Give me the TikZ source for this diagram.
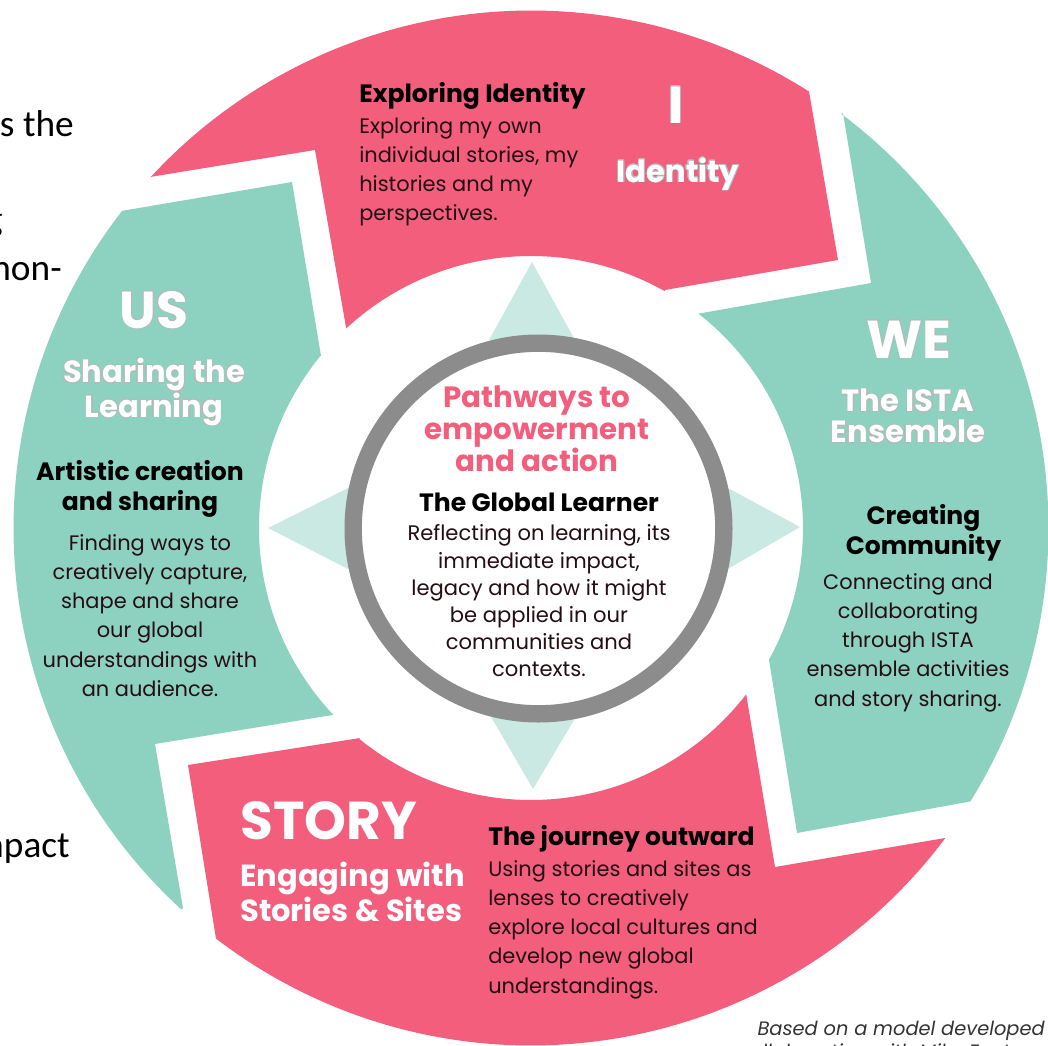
\documentclass[tikz,border=0pt]{standalone}
\usepackage{fontspec}
\usepackage[copies]{contour}
\setmainfont{Poppins}
\newfontfamily\sidefont{Carlito}
\definecolor{rosec}{HTML}{F25E7C}
\definecolor{tealc}{HTML}{8DD1C1}
\definecolor{palec}{HTML}{C9E9E2}
\definecolor{ringc}{HTML}{8C8C8C}
\contourlength{0.35pt}
\newcommand{\halo}[1]{\contour{black!28}{#1}}
\tikzset{
  x=0.75pt,y=-0.75pt,
  outarc/.style 2 args={insert path={-- plot[domain=#1:#2,samples=90] ({531+517.5*cos(\x)},{528+517.5*sin(\x)})}},
  inarc/.style 2 args={insert path={-- plot[domain=#1:#2,samples=60] ({531+272*cos(\x)},{528+272*sin(\x)})}},
  body/.style={inner sep=0pt,font=\fontsize{15.7}{21.9}\selectfont,text=black!85!rosec},
  head/.style={inner sep=0pt,font=\fontsize{18.8}{22.5}\selectfont\bfseries,text=black},
  pinkhead/.style={inner sep=0pt,font=\fontsize{22}{24}\selectfont\bfseries,text=rosec},
  big/.style={inner sep=0pt,font=\fontsize{39}{41}\selectfont\bfseries,text=white},
  sub/.style={inner sep=0pt,font=\fontsize{22.9}{26}\selectfont\bfseries,text=white},
  side/.style={inner sep=0pt,font=\sidefont\fontsize{28}{32}\selectfont,text=black,anchor=base east},
  credit/.style={inner sep=0pt,anchor=base east,font=\fontsize{14.55}{18}\itshape\selectfont,text=black!80},
}
\begin{document}
\begin{tikzpicture}
\useasboundingbox (0,0) rectangle (1048,1045);
% segments
\fill[rosec] (150,177) [outarc={-137.3}{-57.5}] -- (838,260) -- (665,290) [inarc={-60.6}{-132.8}] -- (315,150) -- cycle;
\fill[tealc] (843,113) [outarc={-53.1}{31.9}] -- (797,833) -- (769,660) [inarc={29}{-52}] -- (871,283) -- cycle;
\fill[rosec] (945,838) [outarc={36.8}{127.5}] -- (188,765) -- (360,738) [inarc={129.2}{37.7}] -- (775,867) -- cycle;
\fill[tealc] (183,908) [outarc={132.5}{217.8}] -- (292,182) -- (321,356) [inarc={219.3}{136.6}] -- (155,744) -- cycle;
% pointers
\fill[palec] (532,262) -- (575,340) -- (489,340) -- cycle;
\fill[palec] (800,527) -- (726,570) -- (726,487) -- cycle;
\fill[palec] (533,789) -- (490,715) -- (577,715) -- cycle;
\fill[palec] (268,528) -- (350,487) -- (350,570) -- cycle;
% centre
\node[circle,draw=ringc,line width=13pt,fill=white,minimum size=278pt,inner sep=0pt] (hub) at (538.5,528.5) {};
\node[pinkhead,align=center] (centretitle) at (537,429) {Pathways to\\empowerment\\and action};
\node[head,anchor=base] (centrehead) at (539,511) {The Global Learner};
\node[body,align=center,anchor=north,font=\fontsize{15.8}{20.4}\selectfont] (centrebody) at (539,524.5) {Reflecting on learning, its\\immediate impact,\\legacy and how it might\\be applied in our\\communities and\\contexts.};
% I
\node[head,anchor=base west] (ihead) at (359,103) {Exploring Identity};
\node[body,align=left,anchor=north west] (ibody) at (359,117) {Exploring my own\\individual stories, my\\histories and my\\perspectives.};
\node[big,anchor=base] (ititle) at (676,123) {\halo{I}};
\node[sub,anchor=base] (isub) at (678,182) {\halo{Identity}};
% WE
\node[big,anchor=base,font=\fontsize{40}{42}\selectfont\bfseries] (wetitle) at (909,358) {\halo{WE}};
\node[sub,align=center,anchor=north,font=\fontsize{23}{23.2}\selectfont\bfseries] (wesub) at (908,389) {\halo{The ISTA}\\\halo{Ensemble}};
\node[head,align=center,anchor=north] (wehead) at (923.5,504) {Creating\\Community};
\node[body,align=center,anchor=north] (webody) at (908,573) {Connecting and\\collaborating\\through ISTA\\ensemble activities\\and story sharing.};
% STORY
\node[big,anchor=base west,font=\fontsize{40}{42}\selectfont\bfseries] (storytitle) at (240,839.5) {STORY};
\node[sub,align=left,anchor=north west] (storysub) at (240,862) {Engaging with\\Stories \& Sites};
\node[head,anchor=base west] (storyhead) at (488,845) {The journey outward};
\node[body,align=left,anchor=north west] (storybody) at (488,860) {Using stories and sites as\\lenses to creatively\\explore local cultures and\\develop new global\\understandings.};
% US
\node[big,anchor=base] (ustitle) at (154,328) {\halo{US}};
\node[sub,align=center,anchor=north] (ussub) at (154,358) {\halo{Sharing the}\\\halo{Learning}};
\node[head,align=center,anchor=north] (ushead) at (140,460) {Artistic creation\\and sharing};
\node[body,align=center,anchor=north] (usbody) at (150,534) {Finding ways to\\creatively capture,\\shape and share\\our global\\understandings with\\an audience.};
% cut-off page text
\node[side] (sidea) at (74,137) {s the};
\node[side] (sideb) at (3,231) {g};
\node[side] (sidec) at (62,280) {non-};
\node[side] (sided) at (70,857) {mpact};
% credit
\node[credit] (credita) at (1045,1035) {Based on a model developed};
\node[credit] (creditb) at (1035,1058) {collaboration with Mike Fenton};
\end{tikzpicture}
\end{document}
